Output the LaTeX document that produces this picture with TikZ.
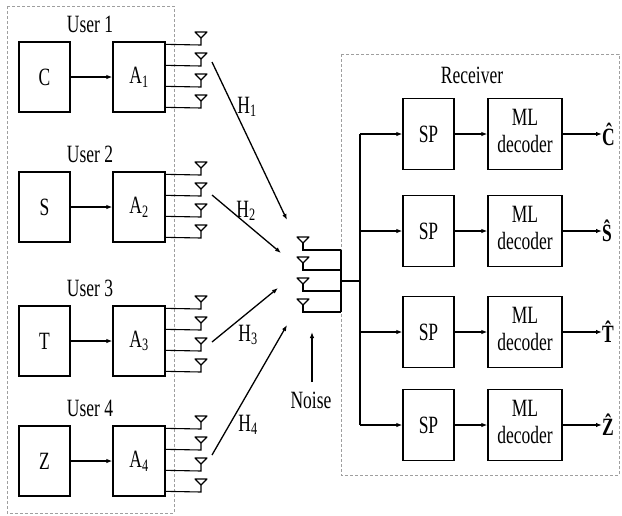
\documentclass[tikz,border=0pt]{standalone}
\usepackage{fontspec}
\usepackage{graphicx}
\setmainfont{Liberation Serif}
\usetikzlibrary{arrows.meta,calc}
\newcommand\tallx[1]{\scalebox{1}[1.42]{#1}}
\begin{document}
\begin{tikzpicture}[x=1pt,y=-1pt,
  font=\fontsize{17.5}{17.5}\selectfont,
  ln/.style={line width=1.3pt,black},
  arr/.style={line width=1.3pt,-{Latex[length=6pt,width=4.5pt]}},
  blk/.style={draw,line width=1.3pt,minimum width=51pt,minimum height=70pt,inner sep=0pt},
  mlbox/.style={draw,line width=1.3pt,minimum width=74pt,minimum height=71pt,inner sep=0pt,align=center},
  dbox/.style={draw=gray!75,line width=0.9pt,dash pattern=on 3pt off 2pt},
  ant/.style={line width=1.1pt,black}
]
\useasboundingbox (0,0) rectangle (622,515);
% dashed boxes
\draw[dbox] (7,6) rectangle (174,513);
\draw[dbox] (341,54) rectangle (619,475);

% users
\foreach \i/\s/\t in {1/C/42,2/S/172,3/T/306,4/Z/426}{
  \node[blk] (src\i) at (44.5,\t+35) {\tallx{\s}};
  \node[blk,minimum width=52pt] (A\i) at (139,\t+35) {\tallx{A\textsubscript{\i}}};
  \node (U\i) at (90,\t-18) {\tallx{User \i}};
  \draw[arr] (src\i) -- (A\i);
  \foreach \d in {3,24,45,66}{
    \coordinate (p\i\d) at ($(A\i.north east)+(0,\d)$);
    \coordinate (q\i\d) at (201,\t+\d);
    \draw[ant] (p\i\d) -- (q\i\d) -- ++(0,-8);
    \draw[ant,line join=round] ($(q\i\d)+(0,-7)$) -- ++(-6,-6) -- ++(12,0) -- cycle;
  }
}

% receive antennas
\foreach \y [count=\k] in {250,270,291,312}{
  \coordinate (r\k) at (303,\y);
  \coordinate (b\k) at (341,\y);
  \draw[ant] (b\k) -- (r\k) -- ++(0,-8);
  \draw[ant,line join=round] ($(r\k)+(0,-7)$) -- ++(-6,-6) -- ++(12,0) -- cycle;
}
\draw[ln] (b1) -- (b4);
\coordinate (feed) at (341,281);
\coordinate (tr0) at (360,281);
\draw[ln] (feed) -- (tr0);

% channel arrows
\coordinate (h1s) at (212,62);  \coordinate (h1e) at (287,220);
\coordinate (h2s) at (212,195); \coordinate (h2e) at (281,253);
\coordinate (h3s) at (212,342); \coordinate (h3e) at (278,288);
\coordinate (h4s) at (212,455); \coordinate (h4e) at (287,325);
\foreach \i in {1,2,3,4}{\draw[arr] (h\i s) -- (h\i e);}
\node (H1) at (247,107) {\tallx{H\textsubscript{1}}};
\node (H2) at (246,211) {\tallx{H\textsubscript{2}}};
\node (H3) at (248,335) {\tallx{H\textsubscript{3}}};
\node (H4) at (248,425) {\tallx{H\textsubscript{4}}};

% noise
\node (noise) at (311,400) {\tallx{Noise}};
\coordinate (n0) at (312,382);
\coordinate (n1) at (312,332);
\draw[arr] (n0) -- (n1);

% receiver
\node (rx) at (472,75) {\tallx{Receiver}};
\foreach \y/\o [count=\k] in {134/C,231/S,332/T,425/Z}{
  \coordinate (t\k) at (360,\y);
  \node[blk,minimum height=71pt] (SP\k) at (428.5,\y) {\tallx{SP}};
  \node[mlbox] (ML\k) at (525,\y) {\tallx{\begin{tabular}{@{}c@{}}ML\\[1.5pt]decoder\end{tabular}}};
  \node[inner sep=0pt,anchor=west] (out\k) at (602,\y) {\tallx{\textbf{\^{\o}}}};
  \draw[arr] (t\k) -- (SP\k);
  \draw[arr] (SP\k) -- (ML\k);
  \draw[arr] (ML\k) -- (out\k);
}
\draw[ln] (t1) -- (t4);
\end{tikzpicture}
\end{document}
